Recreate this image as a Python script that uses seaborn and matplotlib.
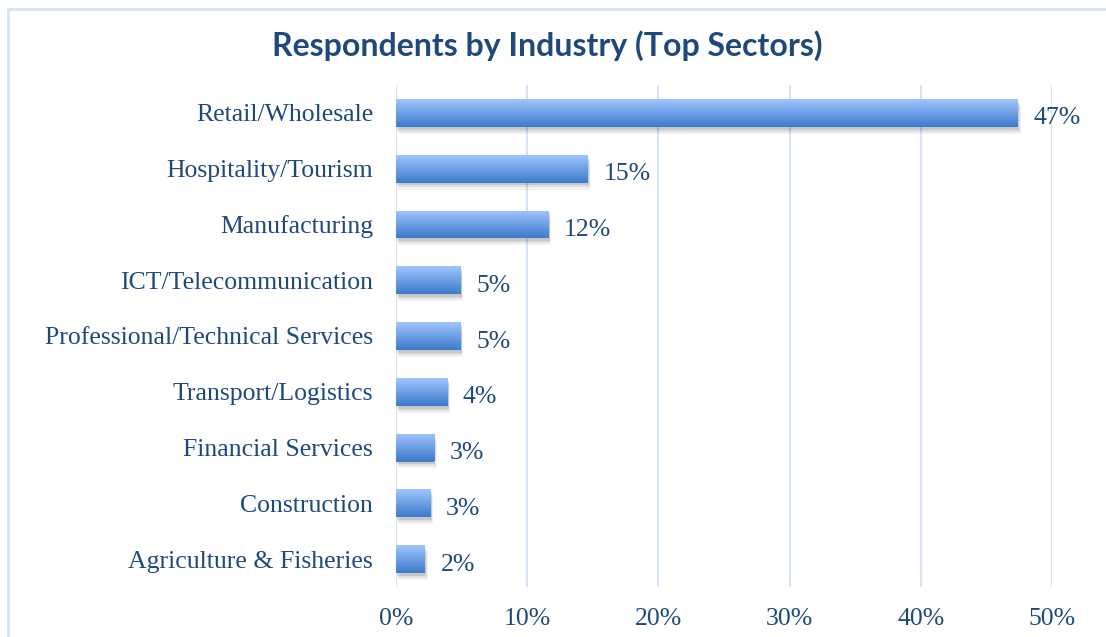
import numpy as np
import pandas as pd
import matplotlib
matplotlib.use("Agg")
import matplotlib.pyplot as plt
import matplotlib.patheffects as pe
from matplotlib.patches import Rectangle
import seaborn as sns

# Share of survey respondents by industry (percent)
sectors = [
    "Retail/Wholesale",
    "Hospitality/Tourism",
    "Manufacturing",
    "ICT/Telecommunication",
    "Professional/Technical Services",
    "Transport/Logistics",
    "Financial Services",
    "Construction",
    "Agriculture & Fisheries",
]
shares = [47.4, 14.6, 11.6, 4.9, 4.9, 3.9, 2.9, 2.6, 2.2]
x_ticks = [0, 10, 20, 30, 40, 50]
x_tick_labels = [f"{t}%" for t in x_ticks]
title = "Respondents by Industry (Top Sectors)"

TEXT = "#1F497D"
GRID = "#D7E4F3"
TOP_COL = np.array([160, 197, 252]) / 255
BOT_COL = np.array([60, 123, 204]) / 255
FS = 18.5

df = pd.DataFrame({"sector": sectors, "share": shares})

sns.set_theme(style="white")
plt.rcParams["font.family"] = ["Liberation Serif", "DejaVu Serif"]

W, H = 1106, 637
fig = plt.figure(figsize=(W / 100, H / 100), dpi=100)
fig.patch.set_facecolor("white")

# light frame around the chart area
fig.patches.append(Rectangle((7.5 / W, -0.05), 1.2, 1 - 8.5 / H + 0.05,
                             transform=fig.transFigure, fill=False,
                             edgecolor=GRID, lw=2.0, zorder=0))

ax = fig.add_axes([396 / W, 1 - 587 / H, (1052 - 396) / W, (587 - 85) / H])

sns.barplot(data=df, x="share", y="sector", orient="h", width=0.5,
            color=BOT_COL, ax=ax, zorder=3)

ax.set_xlim(0, 50)
ax.set_ylim(len(sectors) - 0.5, -0.5)
ax.set_xticks(x_ticks)
ax.set_xticklabels(x_tick_labels)
ax.set_xlabel("")
ax.set_ylabel("")
for s in ax.spines.values():
    s.set_visible(False)
for t in x_ticks:
    ax.axvline(t, color=GRID, lw=1.6, zorder=1)

ax.tick_params(axis="x", length=0, pad=15, labelsize=FS, labelcolor=TEXT)
ax.tick_params(axis="y", length=0, pad=16.5, labelsize=FS, labelcolor=TEXT)

# vertical gradient fill with soft drop shadow on each bar
grad = np.linspace(0, 1, 64)[:, None, None]
img = TOP_COL * (1 - grad) + BOT_COL * grad
shadow = [
    pe.SimplePatchShadow(offset=(2, -5), shadow_rgbFace="#000000", alpha=0.05),
    pe.SimplePatchShadow(offset=(1.5, -3.5), shadow_rgbFace="#000000", alpha=0.08),
    pe.SimplePatchShadow(offset=(1, -2), shadow_rgbFace="#000000", alpha=0.10),
    pe.Normal(),
]
for patch, val in zip(ax.patches, shares):
    patch.set_path_effects(shadow)
    patch.set_edgecolor("none")
    x0, y0 = patch.get_x(), patch.get_y()
    w, h = patch.get_width(), patch.get_height()
    im = ax.imshow(img, extent=(x0, x0 + w, y0 + h, y0), aspect="auto",
                   interpolation="bicubic", zorder=4)
    im.set_clip_path(patch)
    ax.text(x0 + w + 1.2, y0 + h / 2 + 0.1, f"{val:.0f}%", va="center",
            ha="left", fontsize=FS, color=TEXT, zorder=5)

ax.set_xlim(0, 50)
ax.set_ylim(len(sectors) - 0.5, -0.5)

fig.text(547.5 / W, 1 - 46 / H, title, ha="center", va="center",
         fontsize=23, fontweight="bold", color=TEXT,
         family=["Lato", "DejaVu Sans"])

fig.savefig("out.png", dpi=100, facecolor="white")
